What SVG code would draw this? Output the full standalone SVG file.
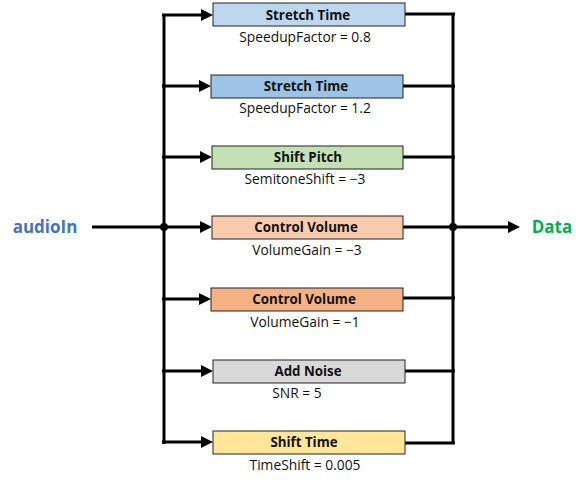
<svg xmlns="http://www.w3.org/2000/svg" width="585" height="487" viewBox="0 0 585 487">
<style>
.box{stroke:#222;stroke-width:1}
.t{font-family:"Open Sans","Liberation Sans",sans-serif;font-size:13.3px;font-weight:bold;text-anchor:middle;fill:#111}
.s{font-family:"Open Sans","Liberation Sans",sans-serif;font-size:13.8px;text-anchor:middle;fill:#111}
.ln{stroke:#000;stroke-width:3;fill:none}
</style>
<defs>
<marker id="ah" markerWidth="4" markerHeight="4" refX="0" refY="2" orient="auto" markerUnits="strokeWidth">
<path d="M0,0 L4,2 L0,4 z" fill="#000"/>
</marker>
</defs>
<rect width="585" height="487" fill="#fff"/>
<g id="connectors">
<line class="ln" x1="164" y1="14" x2="164" y2="444"/>
<line class="ln" x1="453" y1="14" x2="453" y2="444"/>
<line class="ln" x1="92" y1="227" x2="164" y2="227"/>
<line class="ln" x1="162" y1="15" x2="201" y2="15" marker-end="url(#ah)"/>
<line class="ln" x1="162" y1="86" x2="199" y2="86" marker-end="url(#ah)"/>
<line class="ln" x1="162" y1="157" x2="200" y2="157" marker-end="url(#ah)"/>
<line class="ln" x1="162" y1="227" x2="200" y2="227" marker-end="url(#ah)"/>
<line class="ln" x1="162" y1="299" x2="199" y2="299" marker-end="url(#ah)"/>
<line class="ln" x1="162" y1="371" x2="201" y2="371" marker-end="url(#ah)"/>
<line class="ln" x1="162" y1="442" x2="201" y2="442" marker-end="url(#ah)"/>
<line class="ln" x1="405" y1="14" x2="455" y2="14"/>
<line class="ln" x1="403" y1="86" x2="455" y2="86"/>
<line class="ln" x1="403" y1="157" x2="455" y2="157"/>
<line class="ln" x1="403" y1="227" x2="453" y2="227"/>
<line class="ln" x1="403" y1="298" x2="455" y2="298"/>
<line class="ln" x1="405" y1="371" x2="455" y2="371"/>
<line class="ln" x1="405" y1="443" x2="455" y2="443"/>
<line class="ln" x1="453" y1="227" x2="508" y2="227" marker-end="url(#ah)"/>
<circle cx="164" cy="227" r="4" fill="#000"/>
<circle cx="453" cy="227" r="4" fill="#000"/>
</g>
<g id="in"><text x="45" y="233" font-family="'Open Sans','Liberation Sans',sans-serif" font-size="17" font-weight="bold" fill="#4472C4" text-anchor="middle">audioIn</text></g>
<g id="out"><text x="552" y="233" font-family="'Open Sans','Liberation Sans',sans-serif" font-size="17" font-weight="bold" fill="#00B050" text-anchor="middle">Data</text></g>
<g id="n1"><rect class="box" x="213" y="3" width="192" height="23" fill="#BDD7EE"/><text class="t" x="308" y="19.5">Stretch Time</text><text class="s" x="305" y="42">SpeedupFactor = 0.8</text></g>
<g id="n2"><rect class="box" x="211" y="75" width="192" height="23" fill="#9DC3E6"/><text class="t" x="306" y="91">Stretch Time</text><text class="s" x="305" y="113">SpeedupFactor = 1.2</text></g>
<g id="n3"><rect class="box" x="212" y="146" width="191" height="23" fill="#C5E0B4"/><text class="t" x="308" y="162">Shift Pitch</text><text class="s" x="305" y="184">SemitoneShift = −3</text></g>
<g id="n4"><rect class="box" x="212" y="216" width="191" height="23" fill="#F8CBAD"/><text class="t" x="306" y="232">Control Volume</text><text class="s" x="307" y="255">VolumeGain = −3</text></g>
<g id="n5"><rect class="box" x="211" y="288" width="192" height="23" fill="#F4B183"/><text class="t" x="304" y="304">Control Volume</text><text class="s" x="305" y="327">VolumeGain = −1</text></g>
<g id="n6"><rect class="box" x="213" y="360" width="192" height="23" fill="#D9D9D9"/><text class="t" x="308" y="376">Add Noise</text><text class="s" x="297" y="398">SNR = 5</text></g>
<g id="n7"><rect class="box" x="213" y="431" width="192" height="23" fill="#FFE699"/><text class="t" x="304" y="447">Shift Time</text><text class="s" x="305" y="470">TimeShift = 0.005</text></g>
</svg>
